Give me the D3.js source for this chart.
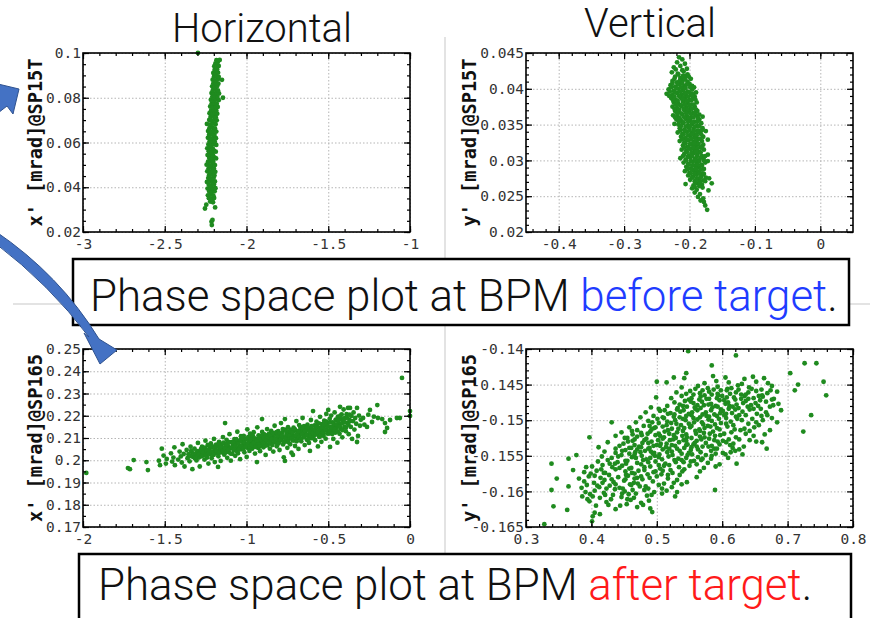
<!DOCTYPE html>
<html>
<head>
<meta charset="utf-8">
<script src="https://cdn.jsdelivr.net/npm/d3@7"></script>
<style>
  body { margin: 0; background: #fff; }
  text { font-family: "DejaVu Sans Mono", monospace; }
</style>
</head>
<body>
<svg id="fig" width="870" height="618"></svg>
<script>
// phase space points [position, angle]
const hBefore = [
  [-2.212,.0231],[-2.214,.0246],[-2.208,.0254],[-2.254,.0305],[-2.192,.0310],[-2.246,.0322],
  [-2.222,.0336],[-2.205,.0333],[-2.230,.0351],[-2.214,.0348],[-2.198,.0352],
  [-2.236,.0364],[-2.219,.0367],[-2.203,.0363],[-2.228,.0381],[-2.212,.0378],[-2.195,.0382],
  [-2.238,.0394],[-2.221,.0397],[-2.204,.0393],[-2.190,.0396],[-2.231,.0411],[-2.214,.0408],[-2.199,.0412],
  [-2.242,.0424],[-2.225,.0427],[-2.208,.0423],[-2.193,.0426],[-2.234,.0441],[-2.218,.0438],[-2.201,.0442],
  [-2.229,.0454],[-2.212,.0457],[-2.196,.0453],[-2.240,.0471],[-2.223,.0468],[-2.206,.0472],[-2.191,.0469],
  [-2.232,.0484],[-2.215,.0487],[-2.199,.0483],[-2.244,.0501],[-2.226,.0498],[-2.209,.0502],[-2.193,.0499],
  [-2.235,.0514],[-2.219,.0517],[-2.203,.0513],[-2.228,.0531],[-2.211,.0528],[-2.195,.0532],[-2.186,.0529],
  [-2.238,.0544],[-2.221,.0547],[-2.205,.0543],[-2.231,.0561],[-2.214,.0558],[-2.198,.0562],[-2.188,.0559],
  [-2.240,.0574],[-2.222,.0577],[-2.206,.0573],[-2.233,.0591],[-2.216,.0588],[-2.199,.0592],[-2.185,.0589],
  [-2.226,.0604],[-2.209,.0607],[-2.194,.0603],[-2.236,.0621],[-2.219,.0618],[-2.202,.0622],[-2.187,.0619],
  [-2.229,.0634],[-2.212,.0637],[-2.196,.0633],[-2.235,.0651],[-2.218,.0648],[-2.201,.0652],[-2.185,.0649],
  [-2.227,.0664],[-2.210,.0667],[-2.193,.0663],[-2.242,.0683],[-2.222,.0681],[-2.205,.0685],[-2.189,.0682],
  [-2.228,.0701],[-2.212,.0698],[-2.196,.0702],[-2.182,.0699],[-2.220,.0714],[-2.203,.0717],[-2.188,.0713],
  [-2.226,.0731],[-2.209,.0728],[-2.193,.0732],[-2.179,.0729],[-2.216,.0744],[-2.200,.0747],[-2.185,.0743],
  [-2.222,.0761],[-2.205,.0758],[-2.190,.0762],[-2.176,.0759],[-2.213,.0774],[-2.197,.0777],[-2.182,.0773],
  [-2.218,.0791],[-2.201,.0788],[-2.186,.0792],[-2.170,.0789],[-2.144,.0800],
  [-2.209,.0804],[-2.193,.0807],[-2.178,.0803],[-2.214,.0821],[-2.198,.0818],[-2.183,.0822],[-2.168,.0819],
  [-2.206,.0834],[-2.190,.0837],[-2.175,.0833],[-2.210,.0851],[-2.194,.0848],[-2.179,.0852],
  [-2.203,.0864],[-2.187,.0867],[-2.172,.0863],[-2.207,.0881],[-2.190,.0878],[-2.175,.0882],[-2.150,.0880],
  [-2.199,.0894],[-2.184,.0897],[-2.170,.0893],[-2.203,.0911],[-2.188,.0908],[-2.174,.0912],
  [-2.195,.0924],[-2.180,.0927],[-2.197,.0941],[-2.183,.0938],[-2.170,.0942],
  [-2.190,.0954],[-2.177,.0957],[-2.184,.0968],[-2.171,.0966],[-2.164,.0969],[-2.297,.1000]
];

const vBefore = [
  [-0.216,.0444],[-0.211,.0441],[-0.219,.0437],[-0.207,.0435],[-0.224,.0430],[-0.214,.0432],[-0.204,.0428],
  [-0.227,.0423],[-0.218,.0421],[-0.209,.0424],[-0.203,.0420],[-0.222,.0417],[-0.214,.0415],[-0.206,.0418],[-0.198,.0414],
  [-0.226,.0411],[-0.219,.0409],[-0.211,.0412],[-0.203,.0410],
  [-0.229,.0405],[-0.222,.0403],[-0.215,.0406],[-0.208,.0404],[-0.200,.0407],[-0.193,.0402],
  [-0.232,.0399],[-0.224,.0397],[-0.217,.0400],[-0.210,.0398],[-0.203,.0396],[-0.196,.0399],[-0.190,.0395],
  [-0.235,.0393],[-0.226,.0391],[-0.219,.0394],[-0.212,.0392],[-0.205,.0390],[-0.198,.0393],[-0.192,.0389],
  [-0.228,.0387],[-0.221,.0385],[-0.214,.0388],[-0.207,.0386],[-0.200,.0384],[-0.194,.0387],
  [-0.224,.0381],[-0.217,.0379],[-0.210,.0382],[-0.203,.0380],[-0.197,.0378],[-0.189,.0381],
  [-0.226,.0375],[-0.219,.0373],[-0.212,.0376],[-0.205,.0374],[-0.199,.0372],[-0.192,.0375],
  [-0.222,.0369],[-0.215,.0367],[-0.208,.0370],[-0.201,.0368],[-0.195,.0366],[-0.188,.0369],
  [-0.225,.0363],[-0.218,.0361],[-0.211,.0364],[-0.204,.0362],[-0.197,.0360],[-0.190,.0363],[-0.180,.0361],
  [-0.220,.0357],[-0.213,.0355],[-0.206,.0358],[-0.199,.0356],[-0.192,.0354],[-0.185,.0357],
  [-0.223,.0351],[-0.217,.0350],[-0.210,.0352],[-0.203,.0349],[-0.196,.0351],[-0.189,.0348],[-0.182,.0352],
  [-0.215,.0345],[-0.208,.0343],[-0.201,.0346],[-0.194,.0344],[-0.187,.0342],[-0.180,.0345],[-0.175,.0341],
  [-0.218,.0339],[-0.211,.0337],[-0.204,.0340],[-0.197,.0338],[-0.190,.0336],[-0.184,.0339],
  [-0.213,.0333],[-0.206,.0331],[-0.199,.0334],[-0.192,.0332],[-0.186,.0330],[-0.179,.0333],[-0.172,.0329],
  [-0.215,.0327],[-0.208,.0325],[-0.201,.0328],[-0.194,.0326],[-0.188,.0324],[-0.181,.0327],
  [-0.210,.0321],[-0.203,.0319],[-0.196,.0322],[-0.190,.0320],[-0.183,.0318],
  [-0.212,.0315],[-0.205,.0313],[-0.198,.0316],[-0.192,.0314],[-0.185,.0312],[-0.178,.0315],
  [-0.208,.0309],[-0.201,.0307],[-0.194,.0310],[-0.188,.0308],[-0.181,.0306],[-0.172,.0308],
  [-0.214,.0303],[-0.206,.0301],[-0.199,.0304],[-0.192,.0302],[-0.186,.0300],[-0.179,.0303],[-0.172,.0299],
  [-0.209,.0297],[-0.202,.0295],[-0.195,.0298],[-0.189,.0296],[-0.182,.0294],[-0.176,.0297],
  [-0.205,.0291],[-0.198,.0289],[-0.191,.0292],[-0.185,.0290],[-0.178,.0288],
  [-0.207,.0285],[-0.200,.0283],[-0.193,.0286],[-0.187,.0284],[-0.180,.0282],
  [-0.202,.0279],[-0.195,.0277],[-0.189,.0280],[-0.182,.0278],[-0.175,.0276],
  [-0.199,.0273],[-0.192,.0271],[-0.186,.0274],[-0.179,.0272],[-0.170,.0275],
  [-0.206,.0267],[-0.194,.0265],[-0.188,.0268],[-0.181,.0266],[-0.166,.0268],
  [-0.196,.0261],[-0.189,.0259],[-0.180,.0262],[-0.171,.0258],[-0.192,.0255],[-0.184,.0253],
  [-0.187,.0249],[-0.179,.0247],[-0.183,.0244],[-0.178,.0242],[-0.176,.0237],[-0.173,.0231],
  [-0.221,.0427],[-0.211,.0426],[-0.217,.0420],[-0.210,.0418],[-0.201,.0417],
  [-0.223,.0414],[-0.215,.0411],[-0.207,.0413],
  [-0.226,.0408],[-0.218,.0407],[-0.211,.0408],[-0.204,.0406],[-0.196,.0404],
  [-0.228,.0402],[-0.220,.0401],[-0.213,.0402],[-0.206,.0401],[-0.199,.0402],
  [-0.230,.0396],[-0.222,.0395],[-0.214,.0396],[-0.207,.0394],[-0.200,.0395],[-0.194,.0393],
  [-0.231,.0390],[-0.223,.0389],[-0.216,.0390],[-0.209,.0388],[-0.202,.0389],[-0.196,.0390],
  [-0.225,.0384],[-0.218,.0383],[-0.211,.0385],[-0.204,.0383],[-0.197,.0384],[-0.191,.0385],
  [-0.221,.0378],[-0.214,.0377],[-0.207,.0378],[-0.200,.0377],[-0.194,.0378],
  [-0.223,.0372],[-0.216,.0371],[-0.209,.0372],[-0.203,.0371],[-0.196,.0372],[-0.190,.0371],
  [-0.219,.0366],[-0.212,.0365],[-0.205,.0366],[-0.198,.0365],[-0.192,.0366],[-0.185,.0364],
  [-0.222,.0360],[-0.215,.0359],[-0.208,.0360],[-0.201,.0359],[-0.194,.0360],[-0.187,.0359],
  [-0.216,.0354],[-0.209,.0353],[-0.202,.0354],[-0.195,.0353],[-0.188,.0354],
  [-0.213,.0348],[-0.206,.0347],[-0.199,.0348],[-0.192,.0347],[-0.185,.0348],
  [-0.214,.0342],[-0.207,.0341],[-0.200,.0342],[-0.193,.0341],[-0.187,.0340],[-0.181,.0342],
  [-0.209,.0336],[-0.202,.0335],[-0.196,.0336],[-0.189,.0335],[-0.182,.0336],
  [-0.211,.0330],[-0.204,.0329],[-0.197,.0330],[-0.190,.0329],[-0.184,.0330],
  [-0.206,.0324],[-0.199,.0323],[-0.193,.0324],[-0.186,.0323],[-0.179,.0322],
  [-0.208,.0318],[-0.201,.0317],[-0.194,.0318],[-0.188,.0317],[-0.181,.0318],
  [-0.204,.0312],[-0.197,.0311],[-0.190,.0312],[-0.183,.0311],
  [-0.210,.0306],[-0.203,.0305],[-0.196,.0306],[-0.189,.0305],[-0.183,.0304],[-0.176,.0306],
  [-0.205,.0300],[-0.198,.0299],[-0.191,.0300],[-0.185,.0299],[-0.178,.0300],
  [-0.201,.0294],[-0.195,.0293],[-0.188,.0294],[-0.181,.0293],
  [-0.203,.0288],[-0.196,.0287],[-0.190,.0288],[-0.183,.0287],
  [-0.198,.0282],[-0.192,.0281],[-0.185,.0282],[-0.178,.0281],
  [-0.196,.0276],[-0.189,.0275],[-0.183,.0276],[-0.191,.0269],[-0.184,.0270],[-0.176,.0271],
  [-0.192,.0263],[-0.185,.0264]
];

const hAfter = [
  [-1.980,.1943],[-1.725,.1965],[-1.713,.1960],[-1.690,.2001],[-1.612,.1992],[-1.603,.1956],
  [-1.536,.1998],[-1.529,.1978],[-1.518,.2052],[-1.507,.2021],[-1.493,.1985],[-1.488,.2006],
  [-1.462,.2031],[-1.455,.1994],[-1.447,.2012],[-1.438,.1978],[-1.441,.2058],
  [-1.418,.2003],[-1.409,.2039],[-1.402,.2017],[-1.396,.1990],[-1.391,.2072],[-1.384,.2028],[-1.379,.1972],
  [-1.366,.2046],[-1.361,.2009],[-1.355,.2027],[-1.348,.1995],[-1.342,.2061],[-1.336,.2038],[-1.331,.1960],[-1.327,.2015],
  [-1.318,.2052],[-1.312,.2024],[-1.306,.1999],[-1.301,.2041],[-1.297,.2078],[-1.291,.2012],[-1.286,.1972],[-1.282,.2033],
  [-1.272,.2061],[-1.268,.2021],[-1.262,.2046],[-1.257,.2003],[-1.251,.2088],[-1.246,.2035],[-1.241,.2012],[-1.237,.2069],[-1.233,.1985],
  [-1.228,.2050],[-1.223,.2027],[-1.218,.2076],[-1.213,.2009],[-1.208,.2058],[-1.204,.2038],[-1.199,.2096],[-1.194,.1992],[-1.190,.2045],[-1.186,.2070],
  [-1.182,.2031],[-1.177,.2061],[-1.172,.2018],[-1.168,.2083],[-1.163,.2047],[-1.158,.1997],[-1.153,.2069],[-1.149,.2035],[-1.144,.2104],[-1.140,.2052],[-1.131,.2167],[-1.174,.1970],
  [-1.136,.2025],[-1.131,.2074],[-1.127,.2048],[-1.122,.2092],[-1.118,.2011],[-1.113,.2063],[-1.109,.2038],[-1.104,.2117],[-1.100,.2054],[-1.096,.1998],[-1.091,.2081],[-1.087,.2029],
  [-1.083,.2068],[-1.078,.2044],[-1.074,.2095],[-1.069,.2020],[-1.065,.2077],[-1.061,.2056],[-1.056,.2128],[-1.052,.2031],[-1.047,.2086],[-1.043,.2062],[-1.039,.2005],[-1.034,.2108],
  [-1.030,.2049],[-1.026,.2083],[-1.021,.2067],[-1.017,.2110],[-1.013,.2036],[-1.008,.2094],[-1.004,.2071],[-0.999,.2015],[-0.995,.2139],[-0.991,.2055],[-0.986,.2088],[-0.982,.2042],[-0.978,.2119],
  [-0.973,.2074],[-0.969,.2101],[-0.965,.2052],[-0.960,.2085],[-0.956,.2126],[-0.952,.2063],[-0.948,.2030],[-0.943,.2096],[-0.939,.2078],[-0.936,.1992],[-0.934,.2148],[-0.930,.2056],[-0.926,.2112],
  [-0.921,.2083],[-0.917,.2041],[-0.913,.2106],[-0.908,.2069],[-0.905,.2185],[-0.904,.2127],[-0.900,.2092],[-0.896,.2058],[-0.891,.2116],[-0.887,.2077],[-0.883,.2024],[-0.879,.2100],[-0.874,.2140],
  [-0.870,.2068],[-0.866,.2093],[-0.862,.2119],[-0.857,.2052],[-0.853,.2085],[-0.849,.2132],[-0.845,.2074],[-0.840,.2107],[-0.836,.2039],[-0.832,.2097],[-0.828,.2155],[-0.823,.2080],
  [-0.819,.2115],[-0.815,.2063],[-0.811,.2098],[-0.806,.2131],[-0.802,.2082],[-0.798,.2046],[-0.793,.2108],[-0.789,.2167],[-0.785,.2090],[-0.781,.2124],[-0.776,.2071],[-0.772,.2013],
  [-0.768,.2103],[-0.765,.2185],[-0.765,.1997],[-0.763,.2138],[-0.759,.2084],[-0.755,.2117],[-0.750,.2056],[-0.746,.2149],[-0.742,.2097],[-0.738,.2128],[-0.733,.2072],[-0.729,.2110],[-0.725,.2034],
  [-0.721,.2122],[-0.716,.2024],[-0.716,.2089],[-0.712,.2146],[-0.708,.2108],[-0.703,.2064],[-0.699,.2133],[-0.695,.2176],[-0.691,.2097],[-0.686,.2120],[-0.682,.2051],[-0.678,.2158],
  [-0.674,.2114],[-0.669,.2141],[-0.665,.2085],[-0.661,.2127],[-0.657,.2190],[-0.652,.2103],[-0.648,.2153],[-0.644,.2068],[-0.640,.2119],[-0.635,.2138],[-0.631,.2092],
  [-0.627,.2160],[-0.623,.2112],[-0.618,.2078],[-0.614,.2144],[-0.612,.2042],[-0.610,.2125],[-0.606,.2181],[-0.601,.2099],[-0.597,.2136],[-0.593,.2221],[-0.589,.2114],[-0.584,.2157],
  [-0.580,.2090],[-0.576,.2131],[-0.572,.2173],[-0.567,.2118],[-0.563,.2062],[-0.559,.2147],[-0.555,.2105],[-0.550,.2195],[-0.546,.2126],[-0.542,.2083],[-0.538,.2162],
  [-0.533,.2139],[-0.529,.2110],[-0.525,.2178],[-0.521,.2155],[-0.516,.2097],[-0.512,.2208],[-0.508,.2134],[-0.504,.2167],[-0.500,.2226],[-0.495,.2120],[-0.491,.2186],[-0.489,.2060],[-0.486,.2149],
  [-0.482,.2201],[-0.478,.2132],[-0.474,.2170],[-0.469,.2096],[-0.465,.2155],[-0.461,.2215],[-0.457,.2124],[-0.452,.2183],[-0.448,.2146],[-0.444,.2079],[-0.440,.2196],
  [-0.436,.2162],[-0.428,.2240],[-0.431,.2119],[-0.427,.2185],[-0.423,.2141],[-0.418,.2206],[-0.414,.2103],[-0.410,.2172],[-0.406,.2228],[-0.401,.2150],[-0.397,.2190],
  [-0.392,.2130],[-0.388,.2207],[-0.384,.2168],[-0.379,.2235],[-0.375,.2117],[-0.371,.2182],[-0.367,.2235],[-0.362,.2150],[-0.358,.2199],[-0.354,.2096],
  [-0.349,.2176],[-0.345,.2215],[-0.340,.2138],[-0.335,.2190],[-0.329,.2164],[-0.324,.2235],[-0.324,.2082],[-0.318,.2109],[-0.312,.2201],[-0.306,.2155],[-0.301,.2182],
  [-0.287,.2190],[-0.279,.2160],[-0.263,.2150],[-0.255,.2205],[-0.245,.2226],[-0.232,.2172],[-0.221,.2196],[-0.200,.2248],[-0.196,.2190],
  [-0.170,.2185],[-0.153,.2167],[-0.153,.2127],[-0.140,.2145],[-0.122,.2181],[-0.080,.2190],[-0.062,.2190],[-0.049,.2370],[0.000,.2221],[0.000,.2199],
  [-1.344,.2019],[-1.338,.2043],[-1.321,.2030],[-1.315,.2008],[-1.294,.2026],[-1.279,.2050],[-1.275,.2018],[-1.266,.2035],
  [-1.254,.2057],[-1.249,.2022],[-1.243,.2044],[-1.230,.2031],[-1.226,.2064],[-1.215,.2039],[-1.211,.2063],[-1.201,.2024],[-1.196,.2054],[-1.183,.2042],
  [-1.170,.2074],[-1.166,.2034],[-1.160,.2058],[-1.146,.2041],[-1.142,.2079],[-1.133,.2057],[-1.125,.2036],[-1.120,.2070],[-1.111,.2048],[-1.106,.2081],[-1.098,.2030],
  [-1.089,.2058],[-1.081,.2080],[-1.076,.2049],[-1.067,.2066],[-1.063,.2095],[-1.058,.2040],[-1.049,.2075],[-1.045,.2048],[-1.036,.2092],[-1.032,.2063],[-1.024,.2100],[-1.019,.2052],
  [-1.011,.2080],[-1.006,.2059],[-1.001,.2097],[-0.993,.2073],[-0.989,.2104],[-0.980,.2062],[-0.976,.2091],[-0.967,.2069],[-0.962,.2112],[-0.958,.2077],[-0.950,.2098],[-0.945,.2060],
  [-0.937,.2088],[-0.928,.2070],[-0.924,.2101],[-0.919,.2061],[-0.911,.2092],[-0.906,.2110],[-0.898,.2077],[-0.893,.2099],[-0.885,.2113],[-0.881,.2066],[-0.876,.2088],[-0.868,.2105],
  [-0.859,.2081],[-0.855,.2110],[-0.847,.2095],[-0.842,.2068],[-0.838,.2123],[-0.830,.2089],[-0.821,.2097],[-0.817,.2126],[-0.808,.2110],[-0.804,.2075],[-0.796,.2121],[-0.791,.2093],
  [-0.783,.2109],[-0.778,.2140],[-0.770,.2083],[-0.761,.2099],[-0.757,.2131],[-0.748,.2113],[-0.744,.2082],[-0.736,.2109],[-0.731,.2137],[-0.723,.2097],[-0.718,.2126],[-0.710,.2089],
  [-0.705,.2140],[-0.697,.2113],[-0.693,.2085],[-0.684,.2131],[-0.680,.2104],[-0.671,.2150],[-0.667,.2096],[-0.659,.2117],[-0.654,.2143],[-0.646,.2105],[-0.642,.2132],[-0.633,.2113],
  [-0.629,.2147],[-0.620,.2096],[-0.616,.2128],[-0.608,.2110],[-0.603,.2153],[-0.595,.2122],[-0.591,.2101],[-0.582,.2140],[-0.578,.2115],[-0.570,.2153],[-0.565,.2128],[-0.557,.2166],
  [-0.552,.2139],[-0.544,.2111],[-0.540,.2148],[-0.531,.2125],[-0.527,.2160],[-0.518,.2137],[-0.514,.2175],[-0.506,.2120],[-0.502,.2151],[-0.493,.2132],[-0.489,.2170],[-0.480,.2145],
  [-0.476,.2118],[-0.467,.2163],[-0.463,.2137],[-0.455,.2181],[-0.450,.2161],[-0.442,.2130],[-0.438,.2177],[-0.429,.2152],[-0.425,.2200],[-0.416,.2166],[-0.412,.2135],[-0.404,.2186],
  [-0.399,.2170],[-0.391,.2147],[-0.386,.2192],[-0.377,.2160],[-0.369,.2205],[-0.364,.2176]
];

const vAfter = [
  [0.328,-.1646],[0.401,-.1642],[0.402,-.1635],[0.405,-.1630],[0.413,-.1632],[0.493,-.1629],[0.363,-.1626],[0.490,-.1624],
  [0.342,-.1621],[0.444,-.1620],[0.479,-.1619],[0.470,-.1622],[0.397,-.1614],[0.423,-.1615],[0.460,-.1612],[0.476,-.1616],[0.488,-.1613],
  [0.402,-.1607],[0.413,-.1609],[0.433,-.1605],[0.446,-.1608],[0.457,-.1604],[0.465,-.1609],[0.485,-.1606],[0.508,-.1603],[0.528,-.1607],
  [0.339,-.1598],[0.391,-.1601],[0.405,-.1599],[0.419,-.1602],[0.436,-.1597],[0.451,-.1600],[0.468,-.1603],[0.481,-.1598],[0.496,-.1601],[0.515,-.1599],[0.589,-.1598],
  [0.365,-.1593],[0.393,-.1591],[0.412,-.1594],[0.428,-.1592],[0.443,-.1595],[0.459,-.1590],[0.474,-.1593],[0.487,-.1596],[0.503,-.1591],[0.523,-.1594],[0.538,-.1590],
  [0.389,-.1586],[0.404,-.1588],[0.420,-.1584],[0.434,-.1587],[0.450,-.1585],[0.465,-.1588],[0.478,-.1583],[0.494,-.1586],[0.511,-.1589],[0.531,-.1584],[0.546,-.1587],
  [0.347,-.1582],[0.396,-.1579],[0.414,-.1581],[0.427,-.1577],[0.441,-.1580],[0.456,-.1578],[0.470,-.1581],[0.486,-.1576],[0.500,-.1579],[0.517,-.1582],[0.535,-.1577],[0.561,-.1580],
  [0.372,-.1570],[0.389,-.1573],[0.408,-.1571],[0.421,-.1574],[0.437,-.1569],[0.452,-.1572],[0.466,-.1575],[0.481,-.1570],[0.495,-.1573],[0.509,-.1571],[0.524,-.1574],[0.542,-.1569],[0.566,-.1572],
  [0.401,-.1565],[0.417,-.1563],[0.432,-.1566],[0.447,-.1564],[0.461,-.1567],[0.476,-.1562],[0.490,-.1565],[0.505,-.1568],[0.519,-.1563],[0.534,-.1566],[0.550,-.1564],[0.572,-.1567],[0.596,-.1562],
  [0.339,-.1561],[0.365,-.1554],[0.410,-.1558],[0.425,-.1556],[0.440,-.1559],[0.455,-.1557],[0.470,-.1560],[0.484,-.1555],[0.498,-.1558],[0.513,-.1561],[0.527,-.1556],[0.541,-.1559],[0.557,-.1557],[0.578,-.1560],[0.622,-.1561],
  [0.377,-.1549],[0.416,-.1551],[0.431,-.1553],[0.446,-.1549],[0.462,-.1552],[0.477,-.1550],[0.490,-.1553],[0.504,-.1548],[0.518,-.1551],[0.533,-.1554],[0.547,-.1549],[0.563,-.1552],[0.584,-.1550],[0.609,-.1553],[0.631,-.1548],
  [0.420,-.1544],[0.437,-.1546],[0.452,-.1542],[0.467,-.1545],[0.482,-.1543],[0.496,-.1546],[0.509,-.1541],[0.523,-.1544],[0.538,-.1547],[0.552,-.1542],[0.567,-.1545],[0.583,-.1543],[0.601,-.1546],[0.626,-.1541],
  [0.411,-.1538],[0.443,-.1536],[0.458,-.1539],[0.473,-.1537],[0.487,-.1540],[0.500,-.1535],[0.514,-.1538],[0.528,-.1536],[0.542,-.1539],[0.556,-.1534],[0.570,-.1537],[0.588,-.1540],[0.612,-.1535],[0.668,-.1540],
  [0.425,-.1531],[0.449,-.1533],[0.463,-.1529],[0.478,-.1532],[0.492,-.1530],[0.506,-.1533],[0.520,-.1528],[0.534,-.1531],[0.547,-.1534],[0.561,-.1529],[0.575,-.1532],[0.593,-.1530],[0.617,-.1533],[0.642,-.1528],[0.661,-.1531],
  [0.397,-.1524],[0.437,-.1522],[0.455,-.1525],[0.470,-.1523],[0.484,-.1526],[0.498,-.1521],[0.511,-.1524],[0.525,-.1527],[0.539,-.1522],[0.553,-.1525],[0.566,-.1523],[0.580,-.1526],[0.597,-.1521],[0.621,-.1524],[0.648,-.1522],
  [0.446,-.1517],[0.462,-.1515],[0.476,-.1518],[0.490,-.1516],[0.503,-.1519],[0.517,-.1514],[0.531,-.1517],[0.545,-.1520],[0.559,-.1515],[0.572,-.1518],[0.586,-.1516],[0.603,-.1519],[0.628,-.1514],[0.673,-.1514],[0.724,-.1516],
  [0.458,-.1510],[0.480,-.1508],[0.496,-.1511],[0.509,-.1509],[0.523,-.1512],[0.537,-.1507],[0.551,-.1510],[0.565,-.1513],[0.578,-.1508],[0.592,-.1511],[0.608,-.1509],[0.634,-.1512],[0.656,-.1507],
  [0.431,-.1503],[0.468,-.1503],[0.487,-.1501],[0.503,-.1504],[0.516,-.1502],[0.530,-.1505],[0.544,-.1500],[0.557,-.1503],[0.571,-.1506],[0.584,-.1501],[0.598,-.1504],[0.613,-.1502],[0.640,-.1505],[0.662,-.1500],[0.684,-.1503],
  [0.475,-.1496],[0.495,-.1494],[0.511,-.1497],[0.526,-.1495],[0.540,-.1498],[0.553,-.1493],[0.566,-.1496],[0.579,-.1499],[0.592,-.1494],[0.606,-.1497],[0.621,-.1495],[0.646,-.1498],[0.669,-.1493],[0.736,-.1493],
  [0.483,-.1489],[0.505,-.1487],[0.521,-.1490],[0.536,-.1488],[0.549,-.1491],[0.562,-.1486],[0.575,-.1489],[0.588,-.1492],[0.601,-.1487],[0.615,-.1490],[0.631,-.1488],[0.653,-.1491],[0.690,-.1486],
  [0.491,-.1482],[0.516,-.1480],[0.532,-.1483],[0.546,-.1481],[0.559,-.1484],[0.572,-.1479],[0.585,-.1482],[0.598,-.1485],[0.611,-.1480],[0.625,-.1483],[0.639,-.1481],[0.659,-.1484],[0.678,-.1479],
  [0.527,-.1475],[0.543,-.1473],[0.556,-.1476],[0.569,-.1474],[0.583,-.1477],[0.596,-.1472],[0.609,-.1475],[0.622,-.1478],[0.636,-.1473],[0.651,-.1476],[0.667,-.1474],[0.686,-.1477],
  [0.499,-.1468],[0.538,-.1466],[0.553,-.1469],[0.567,-.1467],[0.580,-.1470],[0.594,-.1465],[0.607,-.1468],[0.620,-.1471],[0.634,-.1466],[0.648,-.1469],[0.662,-.1467],[0.679,-.1470],[0.759,-.1465],
  [0.530,-.1461],[0.551,-.1459],[0.566,-.1462],[0.580,-.1460],[0.593,-.1463],[0.607,-.1458],[0.621,-.1461],[0.636,-.1464],[0.652,-.1459],[0.669,-.1462],[0.711,-.1458],
  [0.538,-.1454],[0.563,-.1452],[0.578,-.1455],[0.593,-.1453],[0.608,-.1456],[0.624,-.1451],[0.641,-.1454],[0.660,-.1457],[0.676,-.1452],[0.716,-.1450],
  [0.500,-.1446],[0.515,-.1447],[0.573,-.1448],[0.591,-.1445],[0.610,-.1447],[0.630,-.1449],[0.652,-.1446],[0.670,-.1448],[0.755,-.1446],
  [0.526,-.1440],[0.542,-.1441],[0.586,-.1438],[0.605,-.1440],[0.634,-.1442],[0.647,-.1439],[0.664,-.1441],
  [0.545,-.1434],[0.584,-.1423],[0.704,-.1434],[0.726,-.1420],[0.744,-.1420],[0.621,-.1409],[0.548,-.1403],
  [0.423,-.1596],[0.447,-.1603],[0.471,-.1589],[0.492,-.1605],[0.455,-.1611],
  [0.399,-.1575],[0.431,-.1583],[0.462,-.1574],[0.489,-.1581],[0.507,-.1576],[0.526,-.1588],[0.443,-.1567],[0.415,-.1569],
  [0.453,-.1561],[0.468,-.1553],[0.481,-.1566],[0.497,-.1550],[0.511,-.1564],[0.529,-.1559],[0.545,-.1553],[0.436,-.1561],[0.561,-.1562],[0.583,-.1554],[0.475,-.1545],
  [0.458,-.1547],[0.489,-.1539],[0.503,-.1552],[0.516,-.1545],[0.531,-.1540],[0.549,-.1546],[0.561,-.1537],[0.575,-.1549],[0.592,-.1540],[0.605,-.1548],[0.620,-.1543],[0.437,-.1540],[0.466,-.1535],
  [0.481,-.1528],[0.495,-.1536],[0.509,-.1526],[0.523,-.1535],[0.541,-.1528],[0.553,-.1538],[0.568,-.1527],[0.584,-.1536],[0.601,-.1529],[0.633,-.1537],[0.456,-.1530],[0.470,-.1541],
  [0.477,-.1521],[0.492,-.1513],[0.505,-.1522],[0.519,-.1519],[0.533,-.1512],[0.546,-.1524],[0.560,-.1519],[0.573,-.1511],[0.589,-.1522],[0.610,-.1527],[0.636,-.1519],[0.463,-.1520],
  [0.489,-.1508],[0.501,-.1498],[0.515,-.1507],[0.528,-.1500],[0.542,-.1511],[0.556,-.1497],[0.569,-.1503],[0.582,-.1509],[0.595,-.1498],[0.606,-.1505],[0.623,-.1498],[0.649,-.1510],[0.619,-.1513],
  [0.517,-.1491],[0.531,-.1485],[0.545,-.1494],[0.558,-.1482],[0.570,-.1492],[0.583,-.1486],[0.597,-.1490],[0.610,-.1484],[0.626,-.1493],[0.642,-.1485],[0.660,-.1494],[0.503,-.1484],
  [0.535,-.1478],[0.549,-.1471],[0.562,-.1479],[0.576,-.1470],[0.590,-.1480],[0.603,-.1472],[0.616,-.1481],[0.629,-.1470],[0.644,-.1479],[0.658,-.1472],[0.673,-.1481],[0.522,-.1469],
  [0.545,-.1463],[0.559,-.1456],[0.573,-.1465],[0.587,-.1457],[0.600,-.1466],[0.614,-.1455],[0.629,-.1464],[0.645,-.1456],[0.661,-.1465],[0.684,-.1460],
  [0.385,-.1595],[0.398,-.1604],[0.417,-.1588],[0.430,-.1611],[0.407,-.1620],[0.437,-.1625],[0.454,-.1618],[0.419,-.1574],[0.381,-.1582],
  [0.452,-.1583],[0.476,-.1579],[0.498,-.1572],[0.517,-.1577],[0.461,-.1591],[0.483,-.1593],[0.508,-.1596],[0.531,-.1601],
  [0.428,-.1561],[0.458,-.1568],[0.472,-.1571],[0.487,-.1559],[0.503,-.1563],[0.521,-.1570],[0.539,-.1572],[0.552,-.1558],[0.568,-.1556],[0.590,-.1565],
  [0.441,-.1551],[0.452,-.1557],[0.466,-.1548],[0.479,-.1556],[0.494,-.1547],[0.508,-.1555],[0.524,-.1549],[0.538,-.1556],[0.554,-.1548],[0.570,-.1554],[0.590,-.1547],[0.613,-.1545],
  [0.447,-.1543],[0.461,-.1539],[0.476,-.1538],[0.491,-.1544],[0.505,-.1536],[0.519,-.1540],[0.535,-.1543],[0.545,-.1535],[0.563,-.1541],[0.579,-.1537],[0.596,-.1534],[0.616,-.1539],
  [0.451,-.1525],[0.466,-.1527],[0.487,-.1532],[0.502,-.1528],[0.515,-.1533],[0.529,-.1525],[0.545,-.1529],[0.558,-.1532],[0.573,-.1524],[0.588,-.1528],[0.606,-.1531],[0.626,-.1527],[0.652,-.1530],
  [0.470,-.1514],[0.486,-.1519],[0.498,-.1510],[0.512,-.1516],[0.526,-.1521],[0.540,-.1515],[0.553,-.1508],[0.566,-.1515],[0.581,-.1519],[0.596,-.1513],[0.614,-.1517],[0.642,-.1515],[0.665,-.1520],
  [0.493,-.1503],[0.509,-.1496],[0.522,-.1504],[0.535,-.1496],[0.549,-.1505],[0.562,-.1499],[0.576,-.1494],[0.589,-.1506],[0.603,-.1493],[0.617,-.1507],[0.630,-.1500],[0.652,-.1503],[0.676,-.1497],
  [0.512,-.1486],[0.527,-.1492],[0.541,-.1486],[0.554,-.1489],[0.567,-.1483],[0.580,-.1495],[0.593,-.1481],[0.606,-.1491],[0.620,-.1485],[0.636,-.1493],[0.648,-.1484],[0.667,-.1489],
  [0.540,-.1480],[0.552,-.1474],[0.565,-.1471],[0.579,-.1478],[0.592,-.1469],[0.605,-.1477],[0.618,-.1468],[0.632,-.1476],[0.640,-.1470],[0.655,-.1480],[0.676,-.1471],
  [0.556,-.1464],[0.570,-.1458],[0.584,-.1464],[0.598,-.1458],[0.612,-.1463],[0.625,-.1457],[0.640,-.1461],[0.656,-.1466],[0.674,-.1458],
  [0.392,-.1566],[0.405,-.1578],[0.386,-.1607],[0.394,-.1611],[0.426,-.1619],[0.448,-.1596],[0.463,-.1598],[0.409,-.1592],[0.437,-.1590],[0.421,-.1605],[0.453,-.1577],[0.466,-.1582]
];

// tick labels
const hBeforeX = ['-3', '-2.5', '-2', '-1.5', '-1'];
const hBeforeY = ['0.02', '0.04', '0.06', '0.08', '0.1'];
const vBeforeX = ['-0.4', '-0.3', '-0.2', '-0.1', '0'];
const vBeforeY = ['0.02', '0.025', '0.03', '0.035', '0.04', '0.045'];
const hAfterX = ['-2', '-1.5', '-1', '-0.5', '0'];
const hAfterY = ['0.17', '0.18', '0.19', '0.2', '0.21', '0.22', '0.23', '0.24', '0.25'];
const vAfterX = ['0.3', '0.4', '0.5', '0.6', '0.7', '0.8'];
const vAfterY = ['-0.165', '-0.16', '-0.155', '-0.15', '-0.145', '-0.14'];

const titles = ['Horizontal', 'Vertical'];
const yLabels = ["x' [mrad]@SP15T", "y' [mrad]@SP15T", "x' [mrad]@SP165", "y' [mrad]@SP165"];
const captionA = ['Phase space plot at BPM ', 'before target', '.'];
const captionB = ['Phase space plot at BPM ', 'after target', '.'];

const panels = [
  { pts: hBefore, xd: [-3, -1], yd: [0.02, 0.1], xt: hBeforeX, yt: hBeforeY, xm: 0.1, ym: 0.005, box: [83, 53, 410, 232], lab: yLabels[0], lx: 35 },
  { pts: vBefore, xd: [-0.45, 0.05], yd: [0.02, 0.045], xt: vBeforeX, yt: vBeforeY, xm: 0.02, ym: 0.001, box: [526, 53, 853, 232], lab: yLabels[1], lx: 469 },
  { pts: hAfter, xd: [-2, 0], yd: [0.17, 0.25], xt: hAfterX, yt: hAfterY, xm: 0.1, ym: 0.005, box: [83, 349, 410, 527], lab: yLabels[2], lx: 35 },
  { pts: vAfter, xd: [0.3, 0.8], yd: [-0.165, -0.14], xt: vAfterX, yt: vAfterY, xm: 0.02, ym: 0.001, box: [526, 349, 853, 527], lab: yLabels[3], lx: 469 }
];

const slideFont = 'Roboto, "Noto Sans", sans-serif';
const svg = d3.select('#fig');

// faint slide separators
svg.append('line').attr('x1', 445).attr('x2', 445).attr('y1', 37).attr('y2', 618)
  .attr('stroke', '#dadada').attr('stroke-width', 1.5);
svg.append('line').attr('x1', 13).attr('x2', 870).attr('y1', 304).attr('y2', 304)
  .attr('stroke', '#dadada').attr('stroke-width', 1.5);

svg.append('text').attr('x', 262).attr('y', 42).attr('text-anchor', 'middle')
  .style('font-family', slideFont).style('font-weight', 300)
  .style('font-size', '40px').attr('fill', '#111').text(titles[0]);
svg.append('text').attr('x', 650).attr('y', 37).attr('text-anchor', 'middle')
  .style('font-family', slideFont).style('font-weight', 300)
  .style('font-size', '40px').attr('fill', '#111').text(titles[1]);

function minorTicks(d, step) {
  const lo = Math.ceil(Math.min(d[0], d[1]) / step - 1e-6);
  const hi = Math.floor(Math.max(d[0], d[1]) / step + 1e-6);
  return d3.range(lo, hi + 1).map(i => +(i * step).toFixed(5));
}

function styleTicks(sel) {
  sel.select('.domain').remove();
  sel.selectAll('line').attr('stroke', '#000').attr('stroke-width', 1.2);
}

panels.forEach(p => {
  const [l, t, r, b] = p.box;
  const x = d3.scaleLinear().domain(p.xd).range([l, r]);
  const y = d3.scaleLinear().domain(p.yd).range([b, t]);
  const xv = p.xt.map(Number);
  const yv = p.yt.map(Number);
  const g = svg.append('g');

  // dotted grid at major ticks
  g.append('g').attr('transform', `translate(0,${b})`)
    .call(d3.axisBottom(x).tickValues(xv).tickSize(-(b - t)).tickFormat(''))
    .call(s => { s.select('.domain').remove(); s.selectAll('line').attr('stroke', '#b5b5b5').attr('stroke-dasharray', '1.5,2'); });
  g.append('g').attr('transform', `translate(${l},0)`)
    .call(d3.axisLeft(y).tickValues(yv).tickSize(-(r - l)).tickFormat(''))
    .call(s => { s.select('.domain').remove(); s.selectAll('line').attr('stroke', '#b5b5b5').attr('stroke-dasharray', '1.5,2'); });

  // points
  g.append('g').selectAll('circle').data(p.pts).join('circle')
    .attr('cx', d => x(d[0])).attr('cy', d => y(d[1])).attr('r', 2.4)
    .attr('fill', '#1f8b1f');

  // inward ticks on all four sides
  const xmv = minorTicks(p.xd, p.xm);
  const ymv = minorTicks(p.yd, p.ym);
  [[6, xv, yv], [3, xmv, ymv]].forEach(([len, tx, ty]) => {
    g.append('g').attr('transform', `translate(0,${b})`)
      .call(d3.axisBottom(x).tickValues(tx).tickSize(-len).tickFormat('')).call(styleTicks);
    g.append('g').attr('transform', `translate(0,${t})`)
      .call(d3.axisTop(x).tickValues(tx).tickSize(-len).tickFormat('')).call(styleTicks);
    g.append('g').attr('transform', `translate(${l},0)`)
      .call(d3.axisLeft(y).tickValues(ty).tickSize(-len).tickFormat('')).call(styleTicks);
    g.append('g').attr('transform', `translate(${r},0)`)
      .call(d3.axisRight(y).tickValues(ty).tickSize(-len).tickFormat('')).call(styleTicks);
  });

  g.append('rect').attr('x', l).attr('y', t).attr('width', r - l).attr('height', b - t)
    .attr('fill', 'none').attr('stroke', '#000').attr('stroke-width', 1.6);

  // tick labels
  g.append('g').attr('transform', `translate(0,${b})`)
    .call(d3.axisBottom(x).tickValues(xv).tickSize(0).tickPadding(7).tickFormat((d, i) => p.xt[i]))
    .call(s => {
      s.select('.domain').remove();
      s.selectAll('text').attr('fill', '#333').style('font-size', '14.5px').style('font-family', '"DejaVu Sans Mono", monospace');
    });
  g.append('g').attr('transform', `translate(${l},0)`)
    .call(d3.axisLeft(y).tickValues(yv).tickSize(0).tickPadding(2).tickFormat((d, i) => p.yt[i]))
    .call(s => {
      s.select('.domain').remove();
      s.selectAll('text').attr('fill', '#333').style('font-size', '14.5px').style('font-family', '"DejaVu Sans Mono", monospace');
    });

  g.append('text')
    .attr('transform', `translate(${p.lx},${(t + b) / 2}) rotate(-90)`)
    .attr('text-anchor', 'middle').attr('dy', '0.35em')
    .attr('textLength', 168).attr('lengthAdjust', 'spacingAndGlyphs')
    .style('font-size', '19px').style('font-weight', 'bold').attr('fill', '#111')
    .text(p.lab);
});

// caption boxes
function caption(parts, colour, bx, by, bw, bh, tx, ty) {
  svg.append('rect').attr('x', bx).attr('y', by).attr('width', bw).attr('height', bh)
    .attr('fill', '#fff').attr('stroke', '#000').attr('stroke-width', 2.5);
  const txt = svg.append('text').attr('x', tx).attr('y', ty)
    .style('font-family', slideFont).style('font-weight', 300)
    .style('font-size', '38px').attr('fill', '#111');
  txt.append('tspan').text(parts[0]);
  txt.append('tspan').attr('fill', colour).text(parts[1]);
  txt.append('tspan').text(parts[2]);
  return txt;
}
const capA = caption(captionA, '#1f3cff', 73, 259, 776, 66, 90, 311);
const capB = caption(captionB, '#ff1a1a', 79, 554, 772, 80, 98, 600);
const fs = 38 * 748 / capA.node().getComputedTextLength();
capA.style('font-size', fs + 'px');
capB.style('font-size', fs + 'px');

// blue arrows from the slide
const arrowFill = '#4472c4', arrowLine = '#2f528f';
svg.append('path')
  .attr('d', 'M -2 84 L 19 89 L 13 114 L 7 106 L -2 113 Z')
  .attr('fill', arrowFill).attr('stroke', arrowLine).attr('stroke-width', 1);
svg.append('path')
  .attr('d', 'M -5 231 Q 60 275 99 339 L 117 350 L 100 364 L 84 333 L 89 337 Q 50 285 -5 243 Z')
  .attr('fill', arrowFill).attr('stroke', arrowLine).attr('stroke-width', 1);
</script>
</body>
</html>
